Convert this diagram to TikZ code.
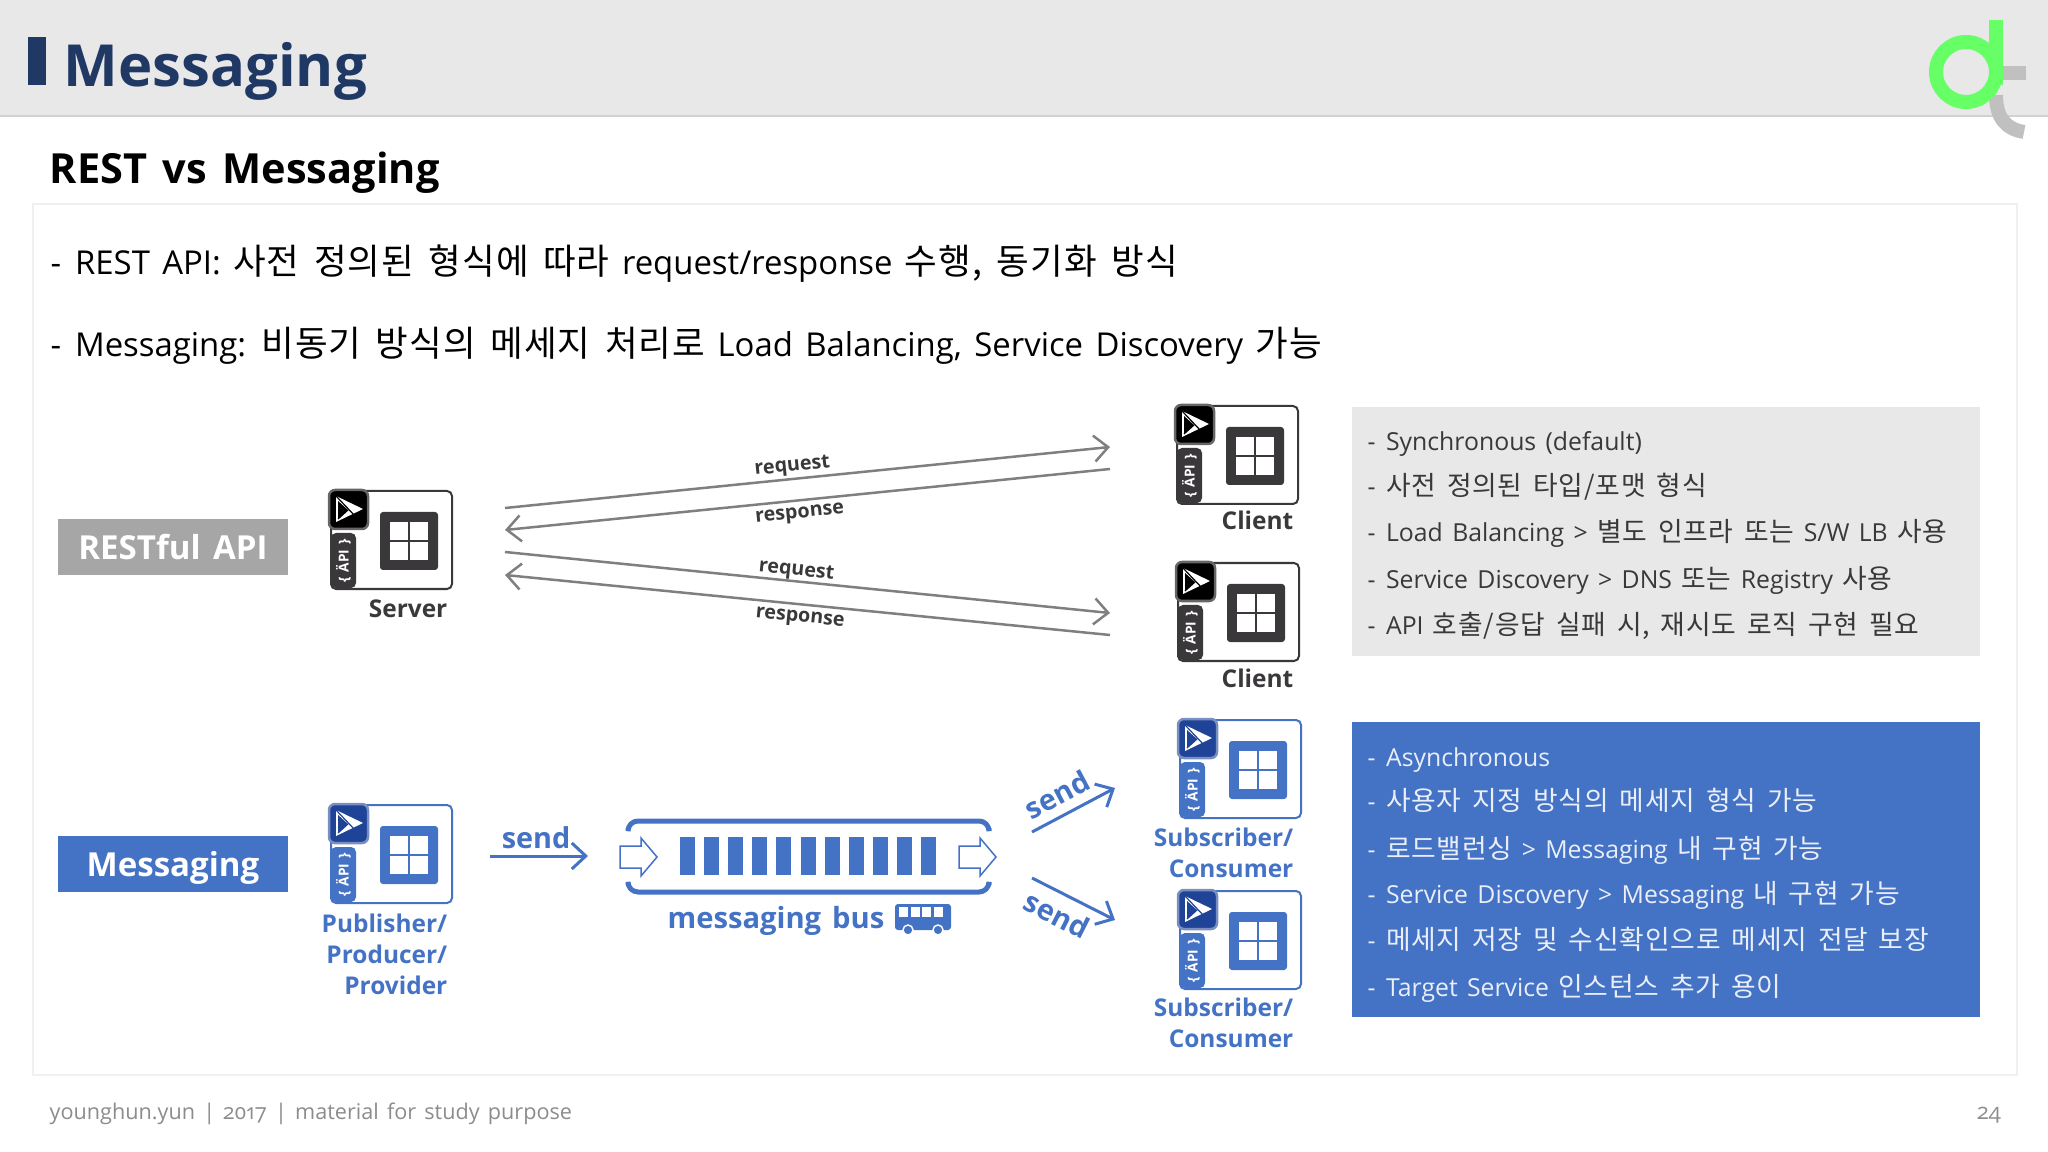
\documentclass[tikz,border=0pt]{standalone}
\usepackage{fontspec}
\usetikzlibrary{calc,arrows.meta}
\setmainfont[WordSpace=1.45]{Open Sans}
\newfontfamily\krfont[Scale=1.08,LetterSpace=3,WordSpace=1.6]{Noto Sans CJK KR}
\newcommand{\kr}[1]{{\krfont #1}}
\newcommand{\dsh}{-\hspace{0.42em}}
\definecolor{navy}{HTML}{1F3864}
\definecolor{msgblue}{HTML}{4472C4}
\definecolor{darkblue}{HTML}{1F4497}
\definecolor{ink}{HTML}{3A383A}
\definecolor{linegray}{HTML}{7F7F7F}
\definecolor{logogreen}{HTML}{66FF66}
\definecolor{logogray}{HTML}{C0C0C0}
\begin{document}
\begin{tikzpicture}[x=0.01cm,y=-0.01cm]

% Fixes the page at the size of the slide
\useasboundingbox (0,0) rectangle (2048,1152);

% Styles for the text
\tikzstyle{txt}=[anchor=base west, inner sep=0pt, font=\fontsize{9.35}{12}\selectfont, text=black]
\tikzstyle{sidetxt}=[txt, font=\fontsize{7.05}{10}\selectfont, text=ink]
\tikzstyle{whitetxt}=[sidetxt, text=white!88!msgblue]
\tikzstyle{tag}=[minimum width=2.3cm, minimum height=0.56cm, inner sep=0pt, text height=0.25cm, text depth=0cm, text=white, font=\fontsize{9.4}{12}\selectfont\bfseries]
\tikzstyle{arrowtxt}=[inner sep=0.5pt, text=ink, font=\fontsize{5.6}{8}\selectfont\bfseries]
\tikzstyle{sendtxt}=[inner sep=2.5pt, text=msgblue, font=\fontsize{8.2}{10}\selectfont\bfseries]
\tikzstyle{namedk}=[inner sep=0pt, anchor=base east, text=ink, font=\fontsize{6.95}{9}\selectfont\bfseries]
\tikzstyle{nameblue}=[namedk, text=msgblue]
\tikzstyle{graypipe}=[draw=linegray, line width=0.25mm, -{Straight Barb[length=1.4mm,width=2.6mm]}]
\tikzstyle{bluepipe}=[draw=msgblue, line width=0.3mm, -{Straight Barb[length=1.4mm,width=2.6mm]}]

% This command draws a single application box
\newcommand{\drawapp}[4]{
% #1, #2 = xcoord, ycoord of upper left corner of box
% #3, #4 = main colour, colour of the icon
\draw[#3, line width=0.2mm, rounded corners=0.5mm] (#1,#2) rectangle ++(121,98);
\fill[#3, rounded corners=0.5mm] ($(#1,#2)+(0,42)$) rectangle ++(25,55);
\node[rotate=90, inner sep=0pt, text=white, font=\fontsize{3.9}{4}\selectfont\bfseries] at ($(#1,#2)+(12.5,70)$) {\{ ÄPI \}};
% White window in a filled square
\fill[#3, rounded corners=0.3mm] ($(#1,#2)+(49,21)$) rectangle ++(58,58);
\fill[white] ($(#1,#2)+(59,31)$) rectangle ++(18,18);
\fill[white] ($(#1,#2)+(79,31)$) rectangle ++(18,18);
\fill[white] ($(#1,#2)+(59,51)$) rectangle ++(18,18);
\fill[white] ($(#1,#2)+(79,51)$) rectangle ++(18,18);
% The icon goes over the corner of the box
\draw[fill=#4, draw=#4!60!white, line width=0.25mm, rounded corners=0.6mm] ($(#1,#2)+(-2,-1)$) rectangle ++(39,39);
\fill[white] ($(#1,#2)+(5,5)$) -- ++(27,13) -- ++(-27,13) -- cycle;
\fill[#4] ($(#1,#2)+(7,10)$) -- ++(10,9) -- ++(-10,9) -- cycle;
\draw[#4, line width=0.12mm] ($(#1,#2)+(5,5)$) -- ++(19,20);
\draw[#4, line width=0.12mm] ($(#1,#2)+(17,19)$) -- ++(-10,9);
} % End of definition of drawapp

% Header band
\fill[gray!18] (0,0) rectangle (2048,115);
\draw[gray!35, line width=0.25mm] (0,116) -- (2048,116);
\fill[navy] (28,37) rectangle (46,85);
\node[txt, text=navy, font=\fontsize{16.5}{20}\selectfont\bfseries] (title) at (63,87) {Messaging};

% Logo
\draw[logogray, line width=1.4mm] (1990,73) -- (2026,73);
\draw[logogray, line width=1.4mm] (1996,95) .. controls (1996,118) and (2006,129) .. (2024,132);
\draw[logogreen, line width=1.4mm] (1966,72) circle (30);
\draw[logogreen, line width=1.4mm] (1996,20) -- (1996,85);

% Sub title and panel
\node[txt, font=\fontsize{11.8}{16}\selectfont\bfseries] (subtitle) at (49,184) {REST vs Messaging};
\draw[gray!12, line width=0.25mm] (33,204) rectangle (2017,1075);

\node[txt] (line1) at (50,275) {\dsh REST API: \kr{사전 정의된 형식에 따라} request/response \kr{수행, 동기화 방식}};
\node[txt] (line2) at (50,357) {\dsh Messaging: \kr{비동기 방식의 메세지 처리로} Load Balancing, Service Discovery \kr{가능}};

% Tags on the left
\node[tag, fill=gray!70] (resttag) at (173,547) {RESTful API};
\node[tag, fill=msgblue] (msgtag) at (173,864) {Messaging};

% REST part
\drawapp{331}{491}{ink}{black}
\drawapp{1177}{406}{ink}{black}
\drawapp{1178}{563}{ink}{black}
\node[namedk] (server) at (448,617) {Server};
\node[namedk] (clienta) at (1294,530) {Client};
\node[namedk] (clientb) at (1294,687) {Client};

\coordinate (sa) at (505,508);
\coordinate (sb) at (505,530);
\coordinate (sc) at (505,552);
\coordinate (sd) at (505,575);
\coordinate (ca) at (1110,447);
\coordinate (cb) at (1110,469);
\coordinate (cc) at (1110,613);
\coordinate (cd) at (1110,635);
\draw[graypipe] (sa) -- node[pos=.477, sloped, above, arrowtxt] (reqa) {request} (ca);
\draw[graypipe] (cb) -- node[pos=.515, sloped, below, arrowtxt, inner sep=1.5pt] (resa) {response} (sb);
\draw[graypipe] (sc) -- node[pos=.48, sloped, above, arrowtxt, inner sep=0pt] (reqb) {request} (cc);
\draw[graypipe] (cd) -- node[pos=.51, sloped, below, arrowtxt, inner sep=1.5pt] (resb) {response} (sd);

% Gray notes
\fill[gray!18] (1352,407) rectangle (1980,656);
\node[sidetxt] (ga) at (1367,451) {\dsh Synchronous (default)};
\node[sidetxt] (gb) at (1367,496) {\dsh \kr{사전 정의된 타입/포맷 형식}};
\node[sidetxt] (gc) at (1367,542) {\dsh Load Balancing > \kr{별도 인프라 또는} S/W LB \kr{사용}};
\node[sidetxt] (gd) at (1367,588) {\dsh Service Discovery > DNS \kr{또는} Registry \kr{사용}};
\node[sidetxt] (ge) at (1367,634) {\dsh API \kr{호출/응답 실패 시, 재시도 로직 구현 필요}};

% Messaging part
\drawapp{331}{805}{msgblue}{darkblue}
\drawapp{1180}{720}{msgblue}{darkblue}
\drawapp{1180}{891}{msgblue}{darkblue}
\node[nameblue] (puba) at (448,932) {Publisher/};
\node[nameblue] (pubb) at (448,963) {Producer/};
\node[nameblue] (pubc) at (448,994) {Provider};
\node[nameblue] (suba) at (1294,846) {Subscriber/};
\node[nameblue] (subb) at (1294,877) {Consumer};
\node[nameblue] (subc) at (1294,1016) {Subscriber/};
\node[nameblue] (subd) at (1294,1047) {Consumer};

% Bus: two rails, eleven bars and the arrows at its ends
\draw[msgblue, line width=0.5mm, rounded corners=1mm] (628,828) -- (628,821) -- (989,821) -- (989,828);
\draw[msgblue, line width=0.5mm, rounded corners=1mm] (628,885) -- (628,892) -- (989,892) -- (989,885);
\foreach \i in {0,...,10}
  \fill[msgblue] ({680+24.1*\i},837) rectangle ++(15,38);
\draw[msgblue, line width=0.15mm] (620,846) -- (641,846) -- (641,838) -- (657,857) -- (641,876) -- (641,868) -- (620,868) -- cycle;
\draw[msgblue, line width=0.15mm] (959,846) -- (980,846) -- (980,838) -- (996,857) -- (980,876) -- (980,868) -- (959,868) -- cycle;

\coordinate (senda) at (490,856);
\coordinate (sendb) at (588,856);
\coordinate (sendc) at (1032,832);
\coordinate (sendd) at (1115,788);
\coordinate (sende) at (1032,878);
\coordinate (sendf) at (1115,920);
\draw[bluepipe] (senda) -- node[pos=.47, above, sendtxt, inner sep=1.6pt] (sendlaba) {send} (sendb);
\draw[bluepipe] (sendc) -- node[pos=.42, sloped, above, sendtxt] (sendlabb) {send} (sendd);
\draw[bluepipe] (sende) -- node[pos=.42, sloped, below, sendtxt] (sendlabc) {send} (sendf);

\node[nameblue, anchor=base, font=\fontsize{8.3}{10}\selectfont\bfseries] (bus) at (776,928) {messaging bus};
% Bus icon
\fill[msgblue, rounded corners=0.3mm] (895,904) rectangle (951,930);
\foreach \i in {0,1,2,3}
  \fill[white] ({899+11.5*\i},907) rectangle ++(9,10);
\fill[msgblue, draw=white] (908,930) circle (5);
\fill[msgblue, draw=white] (938,930) circle (5);

% Blue notes
\fill[msgblue] (1352,722) rectangle (1980,1017);
\node[whitetxt] (ba) at (1367,766) {\dsh Asynchronous};
\node[whitetxt] (bb) at (1367,810) {\dsh \kr{사용자 지정 방식의 메세지 형식 가능}};
\node[whitetxt] (bc) at (1367,858) {\dsh \kr{로드밸런싱} > Messaging \kr{내 구현 가능}};
\node[whitetxt] (bd) at (1367,903) {\dsh Service Discovery > Messaging \kr{내 구현 가능}};
\node[whitetxt] (be) at (1367,949) {\dsh \kr{메세지 저장 및 수신확인으로 메세지 전달 보장}};
\node[whitetxt] (bf) at (1367,996) {\dsh Target Service \kr{인스턴스 추가 용이}};

% Footer
\node[txt, text=gray!90, font=\fontsize{6.15}{9}\selectfont\addfontfeatures{Numbers=OldStyle}] (foot) at (49,1119) {younghun.yun | 2017 | material for study purpose};
\node[txt, anchor=base east, text=gray!90, font=\fontsize{6.3}{8}\selectfont\addfontfeatures{Numbers=OldStyle}] (page) at (2002,1119) {24};

\end{tikzpicture}
\end{document}
